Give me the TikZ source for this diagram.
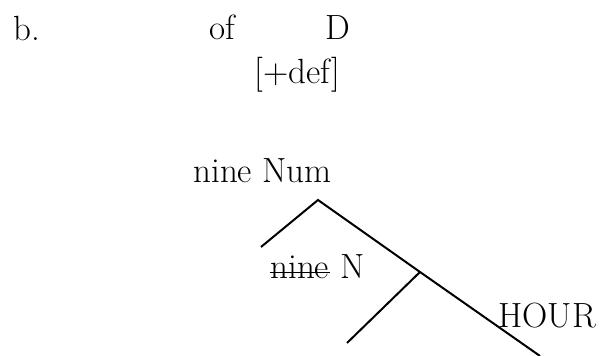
\documentclass[tikz,border=0pt]{standalone}
\usepackage{tikz}

\begin{document}
\begin{tikzpicture}[x=0.5pt,y=-0.5pt,lbl/.style={anchor=base west,inner sep=0pt,font=\fontsize{17.5}{21}\selectfont},branch/.style={line width=1pt}]
\useasboundingbox (0,0) rectangle (600,356);
\node[lbl] (b) at (13,41) {b.};
\node[lbl] (of) at (209,40) {of};
\node[lbl] (d) at (325,40) {D};
\node[lbl] (def) at (254,84) {[+def]};
\node[lbl] (num) at (193,183) {nine Num};
\node[lbl] (nine) at (270,279) {nine};
\node[lbl] (n) at ([xshift=5.5pt]nine.base east) {N};
\node[lbl] (hour) at (498,328) {HOUR};
% struck-out copy
\draw[line width=0.6pt] ([yshift=3.3pt]nine.base west) -- ([yshift=3.3pt]nine.base east);
% tree points
\coordinate (top) at (318,200);
\coordinate (l1) at (261,247);
\coordinate (mid) at (420,272);
\coordinate (l2) at (347,343);
\coordinate (r2) at (540,356);
\draw[branch] (l1) -- (top) -- (mid) -- (r2);
\draw[branch] (mid) -- (l2);
\end{tikzpicture}
\end{document}
